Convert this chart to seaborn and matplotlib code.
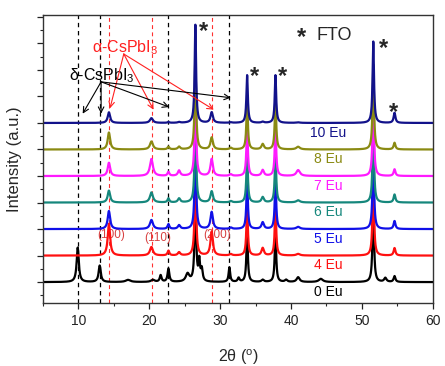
import numpy as np
import pandas as pd
import matplotlib
matplotlib.use("Agg")
import matplotlib.pyplot as plt
from matplotlib.ticker import MultipleLocator, NullFormatter
import seaborn as sns

# ---------------- data ----------------
samples = ["0 Eu", "4 Eu", "5 Eu", "6 Eu", "7 Eu", "8 Eu", "10 Eu"]
colors = ["#000000", "#ff1010", "#1010e8", "#15877c", "#ff1aff", "#8a8a12", "#12128a"]
offsets = [0, 1, 2, 3, 4, 5, 6]

# peak positions (2theta), heights and widths per sample
pk_0 = [9.9, 13.0, 17.0, 20.5, 21.6, 22.7, 25.4, 26.5, 27.05, 27.4, 31.3, 32.6,
        33.8, 36.0, 37.8, 39.3, 41.0, 44.2, 51.6, 53.3, 54.6]
ht_0 = [1.3, 0.62, 0.08, 0.08, 0.25, 0.5, 0.3, 3.6, 0.75, 0.45, 0.55, 0.15,
        1.9, 0.08, 1.9, 0.08, 0.18, 0.12, 3.2, 0.15, 0.22]
wd_0 = [0.18, 0.18, 0.4, 0.3, 0.15, 0.15, 0.3, 0.12, 0.12, 0.15, 0.13, 0.15,
        0.12, 0.2, 0.12, 0.2, 0.25, 0.35, 0.12, 0.2, 0.15]

pk_alpha = [14.3, 20.3, 22.7, 24.2, 26.5, 28.8, 31.5, 33.8, 36.0, 37.8, 41.0, 51.6, 54.6]
wd_alpha = [0.2, 0.25, 0.15, 0.2, 0.12, 0.2, 0.2, 0.12, 0.2, 0.12, 0.3, 0.12, 0.15]
ht_4 = [1.2, 0.32, 0.18, 0.12, 3.6, 0.9, 0.05, 1.9, 0.28, 1.9, 0.06, 3.2, 0.28]
ht_5 = [0.68, 0.34, 0.18, 0.14, 3.6, 0.64, 0.05, 1.9, 0.25, 1.9, 0.08, 3.2, 0.3]
ht_6 = [0.45, 0.38, 0.15, 0.15, 3.6, 0.42, 0.05, 1.9, 0.2, 1.9, 0.08, 3.2, 0.3]
ht_7 = [0.5, 0.64, 0.15, 0.2, 3.6, 0.64, 0.06, 1.9, 0.22, 1.9, 0.22, 3.2, 0.25]
ht_8 = [0.64, 0.3, 0.1, 0.1, 3.6, 0.45, 0.06, 1.9, 0.2, 1.9, 0.1, 3.2, 0.25]
ht_10 = [0.4, 0.18, 0.03, 0.03, 3.7, 0.4, 0.02, 1.8, 0.04, 1.8, 0.02, 3.07, 0.38]

peak_sets = [(pk_0, ht_0, wd_0), (pk_alpha, ht_4, wd_alpha), (pk_alpha, ht_5, wd_alpha),
             (pk_alpha, ht_6, wd_alpha), (pk_alpha, ht_7, wd_alpha),
             (pk_alpha, ht_8, wd_alpha), (pk_alpha, ht_10, wd_alpha)]

delta_lines = [9.9, 13.0, 22.7, 31.3]
alpha_lines = [14.3, 20.35, 28.8]
xticks = [10, 20, 30, 40, 50, 60]
fto_stars_x = [27.7, 34.9, 38.8, 53.0, 54.5]
fto_stars_y = [9.2, 7.5, 7.5, 8.58, 6.13]
miller_labels = ["(100)", "(110)", "(200)"]
miller_x = [14.6, 21.2, 29.5]
miller_y = [1.77, 1.66, 1.77]

# ---------------- build profiles ----------------
tt = np.linspace(5, 60, 2751)
rows = []
for name, off, (pk, ht, wd) in zip(samples, offsets, peak_sets):
    y = np.zeros_like(tt)
    for p, h, w in zip(pk, ht, wd):
        y += h / (1 + ((tt - p) / w) ** 2)
    rows.append(pd.DataFrame({"two_theta": tt, "intensity": y + off, "sample": name}))
df = pd.concat(rows, ignore_index=True)

# ---------------- plot ----------------
sns.set_style("ticks")
plt.rcParams["font.family"] = ["Liberation Sans", "DejaVu Sans"]
plt.rcParams["mathtext.fontset"] = "custom"
plt.rcParams["mathtext.rm"] = "Liberation Sans"
plt.rcParams["mathtext.it"] = "Liberation Sans:italic"

fig = plt.figure(figsize=(4.45, 3.66), dpi=100)
ax = fig.add_axes([0.0966, 0.172, 0.876, 0.787])

for x in delta_lines:
    ax.axvline(x, color="black", lw=0.9, ls=(0, (3.5, 3)), zorder=1)
for x in alpha_lines:
    ax.axvline(x, color="#ff3030", lw=0.8, ls=(0, (3.5, 3)), zorder=1)

# Miller indices (partly covered by the traces, as in the original)
for mx, my, label in zip(miller_x, miller_y, miller_labels):
    ax.text(mx, my, label, color="#d84040", fontsize=8.5, ha="center", va="center", zorder=1.5)

sns.lineplot(data=df, x="two_theta", y="intensity", hue="sample", hue_order=samples,
             palette=dict(zip(samples, colors)), estimator=None, sort=False,
             legend=False, lw=1.6, ax=ax, zorder=2)

ax.set_xlim(5, 60)
ax.set_ylim(-0.79, 10.07)
ax.set_xticks(xticks)
ax.xaxis.set_minor_locator(MultipleLocator(5))
ax.yaxis.set_major_locator(MultipleLocator(1))
ax.yaxis.set_minor_locator(MultipleLocator(0.5))
ax.yaxis.set_major_formatter(NullFormatter())
ax.tick_params(axis="both", which="major", direction="out", length=4.5, width=0.9,
               labelsize=10, colors="#222222")
ax.tick_params(axis="both", which="minor", direction="out", length=2.5, width=0.8)
for s in ax.spines.values():
    s.set_color("#333333")
    s.set_linewidth(1.0)
ax.set_xlabel("2θ ($^{\\mathrm{o}}$)", fontsize=11.5, labelpad=14)
ax.set_ylabel("Intensity (a.u.)", fontsize=12, labelpad=7)

# sample labels
for name, off, c in zip(samples, offsets, colors):
    ax.text(45.2, off - 0.36, name, color=c, fontsize=10, ha="center", va="center")

# FTO markers
ax.text(41.5, 8.99, "*", fontsize=17, fontweight="bold", ha="center", va="baseline")
ax.text(43.6, 9.3, "FTO", fontsize=13, ha="left", va="center")
for sx, sy in zip(fto_stars_x, fto_stars_y):
    ax.text(sx, sy, "*", fontsize=17, fontweight="bold", ha="center", va="baseline")

# phase labels and arrows
ax.text(16.6, 8.85, "α-CsPbI$_3$", color="#ff2020", fontsize=11.5, ha="center", va="center")
ax.text(13.35, 7.8, "δ-CsPbI$_3$", color="black", fontsize=11.5, ha="center", va="center")
for end in [(14.45, 6.55), (20.6, 6.5), (29.1, 6.5)]:
    ax.annotate("", xy=end, xytext=(16.4, 8.6),
                arrowprops=dict(arrowstyle="->", color="#ff2020", lw=0.8, shrinkA=0, shrinkB=0))
for end in [(10.6, 6.35), (13.2, 6.35), (22.8, 6.6), (31.5, 6.95)]:
    ax.annotate("", xy=end, xytext=(13.2, 7.55),
                arrowprops=dict(arrowstyle="->", color="black", lw=0.8, shrinkA=0, shrinkB=0))

fig.savefig("out.png", dpi=100)
